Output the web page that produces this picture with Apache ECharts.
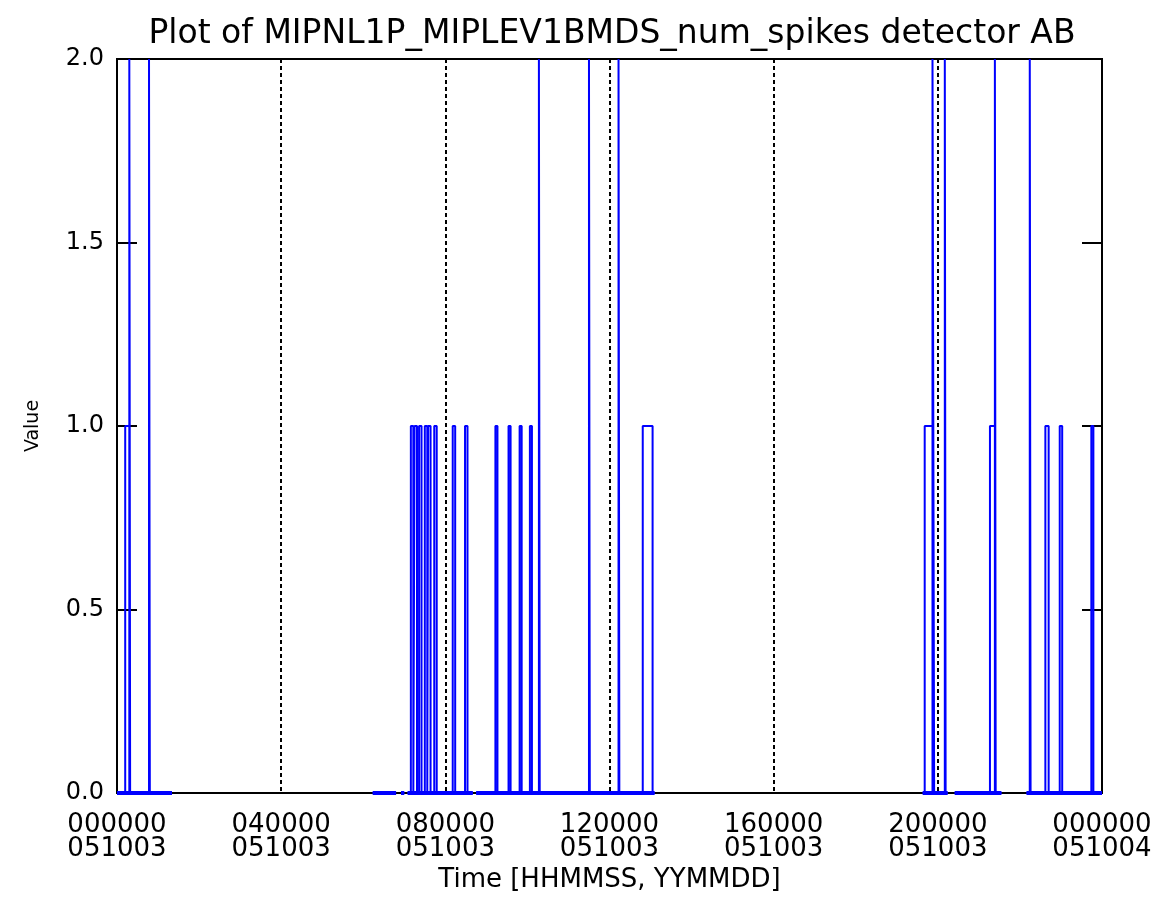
<!DOCTYPE html>
<html>
<head>
<meta charset="utf-8">
<title>MIPNL1P_MIPLEV1BMDS_num_spikes</title>
<script src="https://cdn.jsdelivr.net/npm/echarts@6/dist/echarts.min.js"></script>
<style>
  html, body { margin: 0; padding: 0; background: #fff; }
  #chart { width: 1160px; height: 907px; }
</style>
</head>
<body>
<div id="chart"></div>
<script>
// time in hours since 000000 051003
const xTickLabels = ["000000\n051003", "040000\n051003", "080000\n051003", "120000\n051003",
  "160000\n051003", "200000\n051003", "000000\n051004"];
const yTickLabels = ["0.0", "0.5", "1.0", "1.5", "2.0"];

// stretches of time with data (hours)
const coverage = [
  [0, 1.34], [6.23, 6.80], [6.92, 7.0], [7.08, 8.67], [8.75, 13.10],
  [19.63, 20.24], [20.41, 21.55], [22.16, 24.0]
];

// spikes: [start hour, value, duration hours]
const spikes = [
  [0.20, 1, 0.10], [0.30, 2, 0.02], [0.78, 2, 0.02],
  [7.16, 1, 0.06], [7.25, 1, 0.06], [7.36, 1, 0.06], [7.50, 1, 0.06], [7.58, 1, 0.06],
  [7.73, 1, 0.06], [8.18, 1, 0.06], [8.48, 1, 0.06], [9.22, 1, 0.05], [9.54, 1, 0.05],
  [9.81, 1, 0.05], [10.06, 1, 0.05], [10.28, 2, 0.02], [11.50, 2, 0.02], [12.22, 2, 0.02],
  [12.81, 1, 0.24],
  [19.68, 1, 0.19], [19.87, 2, 0.04], [20.17, 2, 0.02], [21.27, 1, 0.12], [21.39, 2, 0.02],
  [22.24, 2, 0.02], [22.62, 1, 0.08], [22.97, 1, 0.06], [23.74, 1, 0.05]
];

function buildLine() {
  const pts = [];
  coverage.forEach(([a, b]) => {
    pts.push([a, 0]);
    spikes.filter(s => s[0] >= a && s[0] <= b).forEach(([t, v, d]) => {
      pts.push([t, 0], [t, v], [t + d, v], [t + d, 0]);
    });
    pts.push([b, 0]);
    pts.push([b, "-"]);
  });
  return pts;
}

// the zero samples pile up into a heavier blue band on the axis
function buildBaseline() {
  const pts = [];
  coverage.forEach(([a, b]) => pts.push([a, 0], [b, 0], [b, "-"]));
  return pts;
}

const font = "DejaVu Sans";
const chart = echarts.init(document.getElementById("chart"));
chart.setOption({
  animation: false,
  backgroundColor: "#fff",
  title: {
    text: "Plot of MIPNL1P_MIPLEV1BMDS_num_spikes detector AB",
    left: 607, top: 13, textAlign: "center",
    textStyle: { fontFamily: font, fontSize: 33, fontWeight: "normal", color: "#000" }
  },
  grid: {
    left: 117, top: 59, right: 58, bottom: 114,
    show: true, borderColor: "#000", borderWidth: 2, backgroundColor: "transparent"
  },
  xAxis: {
    type: "value", min: 0, max: 24, interval: 4,
    name: "Time [HHMMSS, YYMMDD]", nameLocation: "middle", nameGap: 64,
    nameTextStyle: { fontFamily: font, fontSize: 26, color: "#000" },
    axisLine: { show: true, lineStyle: { color: "#000", width: 2 } },
    axisTick: { show: false },
    splitLine: { show: true, lineStyle: { color: "#000", width: 2, type: [4, 3] } },
    axisLabel: {
      margin: 20, fontFamily: font, fontSize: 26, lineHeight: 24, color: "#000",
      formatter: v => xTickLabels[Math.round(v / 4)]
    }
  },
  yAxis: [{
    type: "value", min: 0, max: 2, interval: 0.5, position: "left",
    name: "Value", nameLocation: "middle", nameGap: 74, nameRotate: 90,
    nameTextStyle: { fontFamily: font, fontSize: 19, color: "#000" },
    axisLine: { show: true, lineStyle: { color: "#000", width: 2 } },
    axisTick: { show: true, inside: true, length: 20, lineStyle: { color: "#000", width: 2 } },
    splitLine: { show: false },
    axisLabel: {
      margin: 13, fontFamily: font, fontSize: 24, color: "#000",
      formatter: v => yTickLabels[Math.round(v / 0.5)]
    }
  }, {
    type: "value", min: 0, max: 2, interval: 0.5, position: "right",
    axisLine: { show: true, lineStyle: { color: "#000", width: 2 } },
    axisTick: { show: true, inside: true, length: 20, lineStyle: { color: "#000", width: 2 } },
    splitLine: { show: false },
    axisLabel: { show: false }
  }],
  series: [{
    type: "line",
    data: buildLine(),
    showSymbol: false,
    symbol: "none",
    clip: false,
    connectNulls: false,
    lineStyle: { color: "#0000ff", width: 2 },
    itemStyle: { color: "#0000ff" },
    z: 5
  }, {
    type: "line",
    data: buildBaseline(),
    showSymbol: false,
    symbol: "none",
    clip: false,
    connectNulls: false,
    lineStyle: { color: "#0000ff", width: 4 },
    itemStyle: { color: "#0000ff" },
    z: 6
  }]
});
</script>
</body>
</html>
